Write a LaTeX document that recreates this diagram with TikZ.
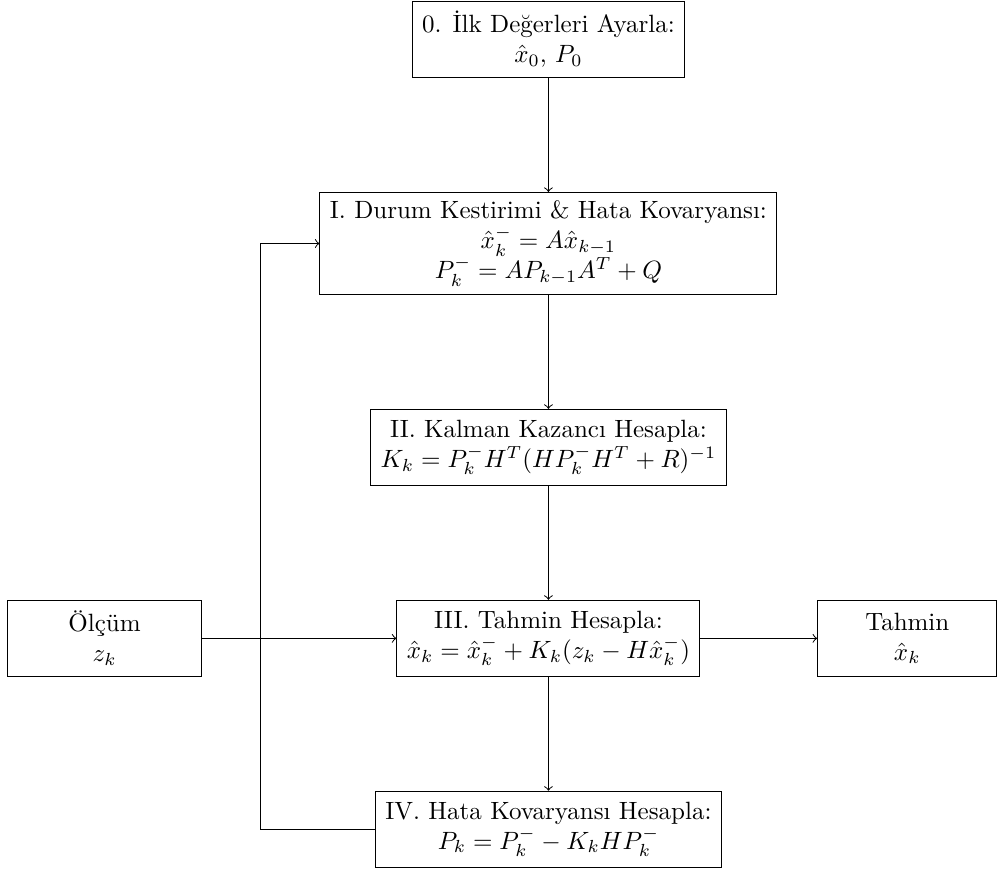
\documentclass[tikz,border=0pt]{standalone}
\usepackage{amsmath}
\usepackage{fontspec}
\usepackage{tikz}
\usetikzlibrary{positioning, calc}

\begin{document}
\begin{tikzpicture}[
  node distance=1.6cm,
  block/.style={rectangle, draw, align=center, inner xsep=4pt,
                minimum height=1.07cm},
  arrow/.style={->}
]
\useasboundingbox (0,0) rectangle (14.10,-12.26);

% Kalman steps
\node[block] (predict) at (7.71,-3.423)
  {I. Durum Kestirimi \& Hata Kovaryansı:\\ $\hat{x}_k^- = A\hat{x}_{k-1}$\\ $P_k^- = AP_{k-1}A^T + Q$};
\node[block, above=of predict] (init)
  {0. İlk Değerleri Ayarla:\\ $\hat{x}_0$, $P_0$};
\node[block, below=of predict] (gain)
  {II. Kalman Kazancı Hesapla:\\ $K_k = P_k^- H^T (H P_k^- H^T + R)^{-1}$};
\node[block, below=of gain] (update)
  {III. Tahmin Hesapla:\\ $\hat{x}_k = \hat{x}_k^- + K_k(z_k - H\hat{x}_k^-)$};
\node[block, below=of update] (cov)
  {IV. Hata Kovaryansı Hesapla:\\ $P_k = P_k^- - K_k H P_k^-$};

% Input / output
\node[block, left=2.73cm of update, minimum width=2.73cm] (meas) {Ölçüm\\ $z_k$};
\node[block, right=1.64cm of update, minimum width=2.52cm] (est) {Tahmin\\ $\hat{x}_k$};

\coordinate (loop) at ($(meas.east)!0.5!(predict.west)$);

% Arrows
\draw[arrow] (init) -- (predict);
\draw[arrow] (predict) -- (gain);
\draw[arrow] (gain) -- (update);
\draw[arrow] (update) -- (cov);
\draw[arrow] (meas) -- (update);
\draw[arrow] (update) -- (est);
\draw[arrow] (cov.west) -| (loop) |- (predict.west);

\end{tikzpicture}
\end{document}
